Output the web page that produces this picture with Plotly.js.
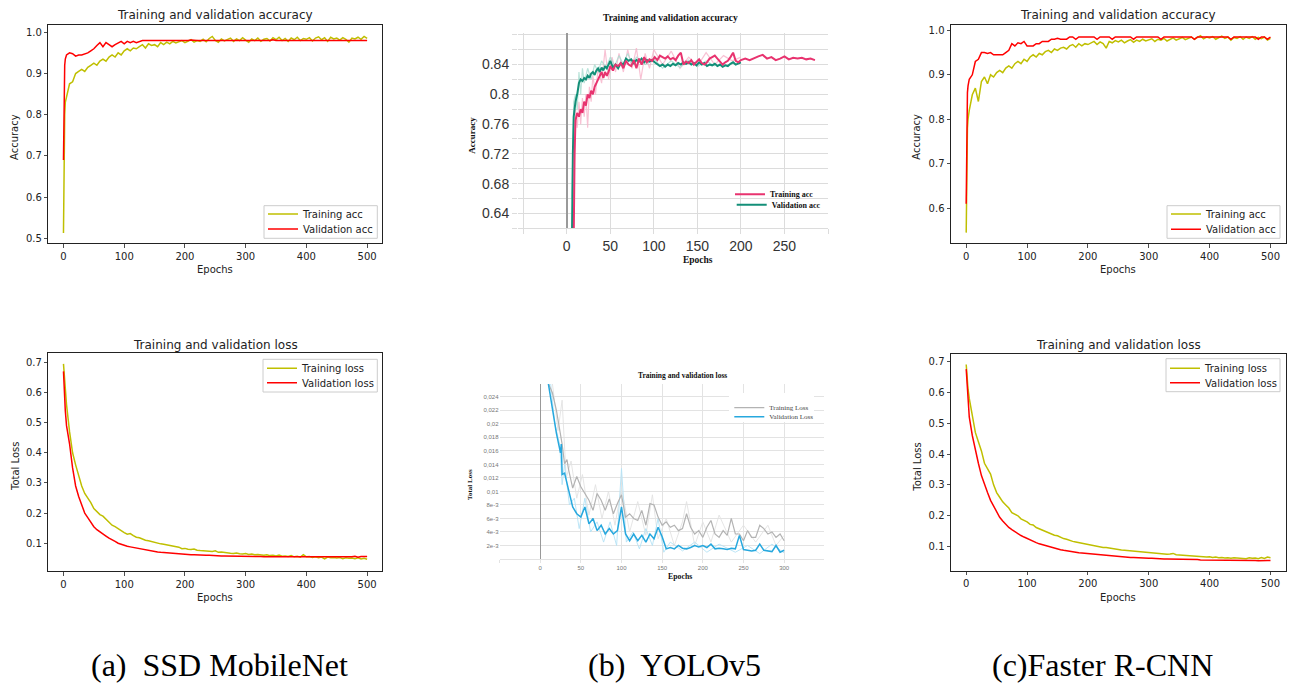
<!DOCTYPE html>
<html><head><meta charset="utf-8">
<script src="https://cdn.plot.ly/plotly-3.0.1.min.js"></script>
<style>html,body{margin:0;padding:0;background:#fff;}#chart{width:1293px;height:686px;}</style>
</head><body><div id="chart"></div>
<script>
// ---------- DATA ----------
const epochs500 = [0,1,2,3,5,10,15,20,25,30,35,40,45,50,55,60,65,70,75,80,85,90,95,100,105,110,115,120,125,130,135,140,145,150,155,160,165,170,175,180,185,190,195,200,205,210,215,220,225,230,235,240,245,250,255,260,265,270,275,280,285,290,295,300,305,310,315,320,325,330,335,340,345,350,355,360,365,370,375,380,385,390,395,400,405,410,415,420,425,430,435,440,445,450,455,460,465,470,475,480,485,490,495,500];

const ssdTrainAcc = [0.513,0.70,0.80,0.83,
0.845,0.875,0.88,0.90,0.905,0.91,0.905,0.915,0.92,0.925,
0.92,0.93,0.935,0.93,0.94,0.945,0.94,0.95,0.945,0.955,
0.96,0.955,0.962,0.96,0.965,0.97,0.962,0.972,0.968,0.97,
0.965,0.975,0.97,0.976,0.972,0.978,0.974,0.977,0.98,0.975,
0.978,0.982,0.976,0.98,0.978,0.983,0.977,0.985,0.99,0.98,
0.976,0.984,0.979,0.982,0.986,0.978,0.984,0.98,0.987,0.981,
0.976,0.984,0.98,0.986,0.978,0.983,0.985,0.979,0.987,0.982,
0.988,0.98,0.985,0.978,0.986,0.982,0.988,0.98,0.985,0.983,
0.987,0.979,0.986,0.989,0.982,0.987,0.978,0.988,0.984,0.986,
0.981,0.987,0.983,0.976,0.986,0.984,0.988,0.983,0.99,0.985];
const ssdValAcc = [0.69,0.88,0.92,0.935,
0.945,0.95,0.948,0.942,0.945,0.945,0.948,0.95,0.955,0.96,
0.968,0.975,0.965,0.975,0.97,0.965,0.97,0.975,0.978,0.972,
0.978,0.975,0.978,0.975,0.978,0.98,0.98,0.98,0.98,0.979,
0.98,0.98,0.98,0.98,0.98,0.98,0.98,0.98,0.98,0.98,
0.98,0.981,0.98,0.98,0.98,0.98,0.98,0.98,0.98,0.98,
0.98,0.98,0.98,0.979,0.98,0.98,0.98,0.98,0.98,0.98,
0.98,0.98,0.98,0.98,0.98,0.98,0.98,0.98,0.982,0.98,
0.98,0.98,0.98,0.98,0.98,0.98,0.98,0.98,0.98,0.98,
0.98,0.98,0.98,0.981,0.98,0.98,0.98,0.98,0.98,0.98,
0.98,0.98,0.98,0.98,0.98,0.98,0.98,0.98,0.98,0.98];
const ssdTrainLoss = [0.695,0.66,0.63,0.60,
0.56,0.47,0.40,0.36,0.32,0.29,0.265,0.25,0.235,0.215,
0.205,0.195,0.19,0.18,0.17,0.16,0.155,0.148,0.14,0.135,
0.13,0.132,0.125,0.12,0.118,0.113,0.11,0.108,0.105,0.103,
0.1,0.098,0.097,0.095,0.092,0.09,0.088,0.087,0.082,0.083,
0.08,0.079,0.081,0.077,0.076,0.075,0.074,0.072,0.073,0.075,
0.07,0.071,0.069,0.068,0.067,0.066,0.068,0.065,0.064,0.066,
0.063,0.064,0.062,0.063,0.061,0.06,0.062,0.059,0.06,0.058,
0.061,0.057,0.058,0.056,0.059,0.055,0.057,0.054,0.062,0.055,
0.056,0.053,0.055,0.052,0.054,0.048,0.054,0.052,0.053,0.051,
0.053,0.049,0.052,0.05,0.051,0.049,0.052,0.048,0.05,0.047];
const ssdValLoss = [0.67,0.62,0.58,0.54,
0.49,0.43,0.35,0.29,0.255,0.225,0.2,0.185,0.17,0.155,
0.145,0.137,0.13,0.124,0.117,0.11,0.106,0.1,0.096,0.093,
0.09,0.088,0.086,0.083,0.081,0.079,0.077,0.075,0.074,0.072,
0.071,0.07,0.069,0.068,0.067,0.066,0.065,0.065,0.064,0.063,
0.063,0.062,0.062,0.061,0.061,0.06,0.06,0.06,0.059,0.059,
0.059,0.058,0.058,0.058,0.058,0.057,0.057,0.057,0.057,0.057,
0.056,0.056,0.056,0.056,0.056,0.055,0.056,0.055,0.055,0.055,
0.055,0.055,0.055,0.054,0.055,0.054,0.055,0.054,0.055,0.054,
0.055,0.054,0.055,0.054,0.056,0.054,0.055,0.054,0.056,0.054,
0.055,0.056,0.054,0.056,0.055,0.057,0.054,0.056,0.055,0.056];

const frcnnTrainAcc = [0.545,0.70,0.78,0.80,
0.82,0.855,0.87,0.84,0.885,0.895,0.88,0.9,0.895,0.905,
0.91,0.905,0.915,0.92,0.915,0.925,0.93,0.925,0.935,0.93,
0.94,0.945,0.94,0.948,0.945,0.952,0.955,0.95,0.958,0.955,
0.96,0.962,0.958,0.965,0.968,0.962,0.97,0.965,0.97,0.968,
0.972,0.975,0.968,0.974,0.97,0.96,0.975,0.972,0.977,0.974,
0.978,0.972,0.976,0.979,0.973,0.978,0.975,0.98,0.976,0.978,
0.981,0.975,0.98,0.978,0.982,0.976,0.98,0.983,0.978,0.981,
0.984,0.979,0.982,0.985,0.98,0.984,0.988,0.981,0.985,0.983,
0.986,0.98,0.984,0.987,0.982,0.985,0.978,0.984,0.982,0.986,
0.98,0.985,0.982,0.986,0.98,0.984,0.981,0.985,0.978,0.982];
const frcnnValAcc = [0.61,0.8,0.86,0.875,
0.89,0.9,0.93,0.935,0.95,0.95,0.948,0.95,0.945,0.945,
0.945,0.945,0.95,0.955,0.97,0.965,0.972,0.97,0.975,0.965,
0.965,0.965,0.97,0.97,0.975,0.975,0.975,0.98,0.98,0.982,
0.98,0.98,0.98,0.985,0.985,0.98,0.985,0.985,0.985,0.985,
0.985,0.985,0.98,0.985,0.985,0.985,0.985,0.98,0.985,0.985,
0.985,0.985,0.985,0.985,0.98,0.985,0.985,0.985,0.985,0.985,
0.985,0.985,0.985,0.98,0.985,0.985,0.985,0.985,0.985,0.985,
0.985,0.985,0.985,0.985,0.98,0.985,0.985,0.985,0.985,0.985,
0.985,0.985,0.985,0.985,0.985,0.985,0.98,0.985,0.985,0.985,
0.985,0.985,0.985,0.985,0.985,0.98,0.985,0.985,0.98,0.985];
const frcnnTrainLoss = [0.69,0.66,0.63,0.61,
0.58,0.52,0.47,0.44,0.41,0.37,0.35,0.335,0.3,0.275,
0.26,0.245,0.235,0.225,0.21,0.205,0.2,0.19,0.185,0.18,
0.172,0.17,0.162,0.158,0.152,0.148,0.145,0.14,0.137,0.135,
0.13,0.126,0.124,0.12,0.117,0.115,0.113,0.11,0.108,0.106,
0.103,0.101,0.1,0.098,0.097,0.097,0.095,0.094,0.092,0.091,
0.089,0.088,0.087,0.086,0.085,0.084,0.083,0.082,0.081,0.08,
0.08,0.079,0.078,0.077,0.076,0.075,0.076,0.078,0.074,0.073,
0.072,0.071,0.07,0.07,0.069,0.068,0.068,0.067,0.066,0.067,
0.065,0.066,0.064,0.065,0.063,0.064,0.062,0.064,0.063,0.062,
0.063,0.061,0.064,0.062,0.063,0.061,0.065,0.062,0.066,0.064];
const frcnnValLoss = [0.675,0.64,0.6,0.57,
0.52,0.46,0.41,0.37,0.33,0.3,0.275,0.25,0.23,0.21,
0.195,0.183,0.172,0.162,0.155,0.148,0.142,0.136,0.131,0.126,
0.121,0.117,0.113,0.109,0.106,0.103,0.1,0.097,0.095,0.093,
0.09,0.088,0.086,0.085,0.083,0.082,0.08,0.079,0.078,0.077,
0.076,0.075,0.074,0.073,0.072,0.071,0.07,0.07,0.069,0.068,
0.067,0.067,0.066,0.065,0.065,0.064,0.064,0.063,0.063,0.062,
0.062,0.061,0.061,0.061,0.06,0.06,0.06,0.06,0.059,0.059,
0.059,0.059,0.058,0.058,0.058,0.058,0.057,0.057,0.057,0.057,
0.057,0.056,0.056,0.056,0.056,0.056,0.055,0.056,0.055,0.055,
0.055,0.055,0.055,0.055,0.055,0.054,0.055,0.054,0.055,0.055];

// YOLOv5 accuracy (smoothed lines)
const yoloTrainAccEpochs = [7,8,9,10,12,14,16,18,20,22,24,26,28,30,32,34,36,38,40,42,44,46,48,50,53,56,59,62,65,68,71,74,77,80,83,86,89,92,95,98,101,104,107,110,113,116,119,122,125,128,131,134,137,140,143,146,149,152,155,158,161,164,167,170,173,176,179,182,185,188,191,194,197,200,205,210,215,220,225,230,235,240,245,250,255,260,265,270,275,280,285];
const yoloTrainAcc = [0.5,0.64,0.72,0.765,
0.775,0.77,0.78,0.775,0.79,0.785,0.80,0.795,0.805,0.80,0.81,0.815,0.82,0.825,0.83,0.822,0.83,0.825,0.83,0.838,
0.832,0.84,0.838,0.842,0.835,0.845,0.84,0.838,0.846,0.835,0.848,0.84,0.85,0.843,0.847,0.845,0.85,0.846,0.852,0.85,0.848,0.851,0.847,0.849,0.846,0.852,0.856,0.84,0.844,0.842,0.846,0.84,0.844,0.847,0.842,0.84,0.843,0.848,0.85,0.852,0.848,0.844,0.84,0.843,0.845,0.85,0.856,0.845,0.843,0.846,
0.848,0.846,0.849,0.851,0.853,0.848,0.85,0.846,0.848,0.851,0.847,0.849,0.848,0.849,0.847,0.848,0.846];
const yoloValAccEpochs = [5,6,7,8,9,10,12,14,16,18,20,22,24,26,28,30,32,34,36,38,40,42,44,46,48,50,53,56,59,62,65,68,71,74,77,80,83,86,89,92,95,98,101,104,107,110,113,116,119,122,125,128,131,134,137,140,143,146,149,152,155,158,161,164,167,170,173,176,179,182,185,188,191,194,197,200];
const yoloValAcc = [0.5,0.64,0.72,0.77,0.785,0.79,
0.80,0.815,0.82,0.818,0.822,0.82,0.825,0.822,0.828,0.83,0.826,0.832,0.835,0.83,0.836,0.832,0.838,0.835,0.84,0.845,
0.836,0.84,0.835,0.842,0.84,0.848,0.845,0.847,0.842,0.846,0.844,0.848,0.843,0.846,0.844,0.846,0.843,0.84,0.838,0.84,0.837,0.84,0.838,0.841,0.839,0.842,0.84,0.843,0.841,0.843,0.84,0.842,0.839,0.843,0.84,0.842,0.838,0.84,0.839,0.841,0.838,0.84,0.837,0.839,0.838,0.841,0.843,0.84,0.842,0.843];
// YOLOv5 accuracy (raw, faint)
const yoloTrainAccRawEpochs = [8,10,12,14,16,18,20,22,24,26,28,30,33,36,40,44,48,52,56,60,65,70,75,80,85,90,95,100,110,120,130,140,150,160,170,180,190,200];
const yoloTrainAccRaw = [0.66,0.78,0.755,0.79,0.76,0.795,0.77,0.80,0.755,0.81,0.79,0.825,0.80,0.835,0.815,0.86,0.82,0.85,0.83,0.855,0.83,0.86,0.835,0.862,0.82,0.855,0.835,0.86,0.84,0.858,0.835,0.85,0.838,0.856,0.84,0.852,0.845,0.85];
const yoloValAccRawEpochs = [6,8,10,12,14,16,18,20,24,28,32,36,40,45,50,55,60,65,70,75,80,90,100,110,120,130,140,150,160,170];
const yoloValAccRaw = [0.66,0.79,0.80,0.78,0.83,0.80,0.835,0.815,0.835,0.82,0.84,0.83,0.845,0.835,0.85,0.838,0.852,0.84,0.855,0.84,0.85,0.84,0.848,0.835,0.845,0.836,0.846,0.837,0.845,0.838];

// YOLOv5 loss (smoothed lines)
const yoloTrainLossEpochs = [10,15,20,25,27,30,33,35,40,45,50,55,60,65,70,75,80,85,90,95,100,105,110,115,120,125,130,135,140,145,150,155,160,165,170,175,180,185,190,195,200,205,210,215,220,225,230,235,240,245,250,255,260,265,270,275,280,285,290,295,300];
const yoloTrainLoss = [0.026,0.0246,0.022,0.0186,0.017,0.0141,0.0147,0.0132,
0.0105,0.0122,0.0107,0.0097,0.0087,0.0072,0.0097,0.0087,0.0072,0.0089,0.0067,0.0082,0.0095,0.0062,0.0067,0.006,0.0057,0.0072,0.005,0.0082,0.008,0.0062,0.005,0.0055,0.0047,0.005,0.0042,0.0045,0.0067,0.0047,0.0037,0.0042,0.0032,0.0047,0.0057,0.0037,0.0032,0.0042,0.0035,0.006,0.0037,0.0037,0.0027,0.0042,0.0032,0.0032,0.005,0.0045,0.0037,0.004,0.0032,0.0037,0.0027];
const yoloValLossEpochs = [10,15,20,25,26,27,30,35,40,45,50,55,60,65,70,75,80,85,90,95,100,105,110,115,120,125,130,135,140,145,150,155,160,165,170,175,180,185,190,195,200,205,210,215,220,225,230,235,240,245,250,255,260,265,270,275,280,285,290,295,300];
const yoloValLoss = [0.026,0.0221,0.0186,0.0157,0.017,0.0125,0.0127,0.0102,
0.0077,0.0067,0.0062,0.0077,0.0052,0.006,0.0042,0.005,0.0037,0.0045,0.0037,0.0042,0.0077,0.0037,0.0027,0.0037,0.0027,0.0035,0.0025,0.0037,0.003,0.0047,0.0033,0.0015,0.0017,0.0015,0.002,0.0016,0.0015,0.0017,0.002,0.0018,0.002,0.0017,0.0022,0.0015,0.0016,0.0015,0.0014,0.0016,0.0015,0.0035,0.0014,0.0013,0.0012,0.0013,0.0022,0.0013,0.0012,0.0011,0.002,0.001,0.0013];
// YOLOv5 loss (raw, faint)
const yoloValLossRawEpochs = [12,18,24,27,30,36,42,48,55,62,70,78,86,94,100,106,114,122,130,138,145,152,160,175,190,205,220,240,255,270,285,300];
const yoloValLossRaw = [0.027,0.02,0.017,0.011,0.014,0.008,0.009,0.0045,0.009,0.004,0.0055,0.0025,0.0055,0.002,0.0134,0.0025,0.004,0.0015,0.0045,0.002,0.006,0.001,0.0025,0.0012,0.0025,0.001,0.0022,0.001,0.002,0.0008,0.0022,0.0009];
const yoloTrainLossRawEpochs = [15,22,27,32,38,45,52,60,68,76,84,92,100,110,120,130,138,145,155,165,175,180,190,200,210,220,235,250,265,280,290,300];
const yoloTrainLossRaw = [0.026,0.019,0.0235,0.012,0.0145,0.009,0.0125,0.0065,0.011,0.006,0.01,0.005,0.0105,0.004,0.0085,0.0035,0.0095,0.003,0.006,0.002,0.0055,0.0085,0.002,0.0055,0.0025,0.0065,0.0025,0.005,0.0025,0.005,0.002,0.0035];

// tick labels
const mplEpochTicks = [0,100,200,300,400,500];
const ssdAccTicks = [0.5,0.6,0.7,0.8,0.9,1.0];
const frcnnAccTicks = [0.6,0.7,0.8,0.9,1.0];
const lossTicks = [0.1,0.2,0.3,0.4,0.5,0.6,0.7];
const yoloAccXTicks = [-50,0,50,100,150,200,250,300];
const yoloAccXLabels = ['','0','50','100','150','200','250',''];
const yoloAccYTicks = [0.62,0.64,0.66,0.68,0.70,0.72,0.74,0.76,0.78,0.80,0.82,0.84,0.86,0.88];
const yoloAccYLabels = ['','0.64','','0.68','','0.72','','0.76','','0.8','','0.84','',''];
const yoloLossXTicks = [-50,0,50,100,150,200,250,300];
const yoloLossXLabels = ['','0','50','100','150','200','250','300'];
const yoloLossYTicks = [0,0.002,0.004,0.006,0.008,0.01,0.012,0.014,0.016,0.018,0.02,0.022,0.024];
const yoloLossYLabels = ['','2e-3','4e-3','6e-3','8e-3','0,01','0,012','0,014','0,016','0,018','0,02','0,022','0,024'];

// ---------- LAYOUT HELPERS ----------
const W = 1293, H = 686;
const xd = (a,b) => [a/W, b/W];
const yd = (top,bottom) => [1-bottom/H, 1-top/H];
const MPL_FONT = 'DejaVu Sans';
const SERIF = 'Liberation Serif';
const YEL = '#bfbf00', RED = '#ff0000';

function mplX(anchor, dom) {
  return {domain: dom, anchor: anchor, range: [-25,525], tickvals: mplEpochTicks, ticks: 'outside', ticklen: 3.5, tickwidth: 0.8,
    tickcolor: '#222', showline: true, mirror: true, linecolor: '#222', linewidth: 1, showgrid: false, zeroline: false,
    tickfont: {family: MPL_FONT, size: 10, color: '#222'}};
}
function mplY(anchor, dom, range, tv) {
  return {domain: dom, anchor: anchor, range: range, tickvals: tv, tickformat: '.1f', ticks: 'outside', ticklen: 3.5, tickwidth: 0.8,
    tickcolor: '#222', showline: true, mirror: true, linecolor: '#222', linewidth: 1, showgrid: false, zeroline: false,
    tickfont: {family: MPL_FONT, size: 10, color: '#222'}};
}
// one legend entry per legend, placed by its left edge (px) and the entry's vertical centre (px)
function itemLegend(leftPx, midPx, font, bg) {
  return {x: leftPx/W, y: 1-midPx/H, xanchor: 'left', yanchor: 'middle', xref: 'paper', yref: 'paper',
    bgcolor: bg || 'rgba(0,0,0,0)', borderwidth: 0, font: font, itemwidth: 30, tracegroupgap: 0};
}
function legendBox(l, t, r, b) {
  return {type: 'rect', xref: 'paper', yref: 'paper', x0: l/W, x1: r/W, y0: 1-b/H, y1: 1-t/H, layer: 'above',
    line: {color: '#cccccc', width: 1}, fillcolor: 'rgba(255,255,255,0.85)'};
}
function ann(text, px, py, font, extra) {
  return Object.assign({text: text, x: px/W, y: 1-py/H, xref: 'paper', yref: 'paper', showarrow: false,
    xanchor: 'center', yanchor: 'middle', font: font}, extra || {});
}
function line(x, y, xa, ya, name, color, width, legend, show, opacity) {
  return {type: 'scatter', mode: 'lines', x: x, y: y, xaxis: xa, yaxis: ya, name: name, legend: legend,
    showlegend: show, opacity: opacity == null ? 1 : opacity, line: {color: color, width: width}, hoverinfo: 'skip'};
}

const PINK = '#e8336f', TEAL = '#138f78', GRAY = '#b3b3b3', BLUE = '#27a8de';

const data = [
  // (a) SSD MobileNet
  line(epochs500, ssdTrainAcc, 'x', 'y', 'Training acc', YEL, 1.5, 'legend', true),
  line(epochs500, ssdValAcc, 'x', 'y', 'Validation acc', RED, 1.5, 'legend7', true),
  line(epochs500, ssdTrainLoss, 'x2', 'y2', 'Training loss', YEL, 1.5, 'legend2', true),
  line(epochs500, ssdValLoss, 'x2', 'y2', 'Validation loss', RED, 1.5, 'legend8', true),
  // (b) YOLOv5
  line(yoloTrainAccRawEpochs, yoloTrainAccRaw, 'x3', 'y3', 'raw', '#f6b3c9', 1.2, 'legend3', false, 0.8),
  line(yoloValAccRawEpochs, yoloValAccRaw, 'x3', 'y3', 'raw', '#a9dccf', 1.2, 'legend3', false, 0.8),
  line(yoloValAccEpochs, yoloValAcc, 'x3', 'y3', 'Validation acc', TEAL, 2, 'legend9', true),
  line(yoloTrainAccEpochs, yoloTrainAcc, 'x3', 'y3', 'Training acc', PINK, 2, 'legend3', true),
  line(yoloTrainLossRawEpochs, yoloTrainLossRaw, 'x4', 'y4', 'raw', '#e2e2e2', 1, 'legend4', false, 0.9),
  line(yoloValLossRawEpochs, yoloValLossRaw, 'x4', 'y4', 'raw', '#b5e2f5', 1, 'legend4', false, 0.9),
  line(yoloTrainLossEpochs, yoloTrainLoss, 'x4', 'y4', 'Training Loss', GRAY, 1.2, 'legend4', true),
  line(yoloValLossEpochs, yoloValLoss, 'x4', 'y4', 'Validation Loss', BLUE, 1.5, 'legend10', true),
  // (c) Faster R-CNN
  line(epochs500, frcnnTrainAcc, 'x5', 'y5', 'Training acc', YEL, 1.5, 'legend5', true),
  line(epochs500, frcnnValAcc, 'x5', 'y5', 'Validation acc', RED, 1.5, 'legend11', true),
  line(epochs500, frcnnTrainLoss, 'x6', 'y6', 'Training loss', YEL, 1.5, 'legend6', true),
  line(epochs500, frcnnValLoss, 'x6', 'y6', 'Validation loss', RED, 1.5, 'legend12', true)
];

const GRID = '#dcdcdc';
const MPL_LEG = {family: MPL_FONT, size: 10, color: '#222'};
const B_LEG_TOP = {family: SERIF, size: 8, color: '#111', weight: 'bold'};
const B_LEG_BOT = {family: SERIF, size: 7, color: '#444'};
const layout = {
  width: W, height: H, margin: {l:0, r:0, t:0, b:0}, paper_bgcolor: '#fff', plot_bgcolor: '#fff', showlegend: true,
  // (a)
  xaxis: mplX('y', xd(48.3, 382.3)),
  yaxis: mplY('x', yd(25, 243.3), [0.488, 1.0177], ssdAccTicks),
  xaxis2: mplX('y2', xd(48.3, 382.3)),
  yaxis2: mplY('x2', yd(353.3, 571), [0.008, 0.73], lossTicks),
  // (b) top
  xaxis3: {domain: xd(518, 828), anchor: 'y3', range: [-56, 300], tickvals: yoloAccXTicks, ticktext: yoloAccXLabels,
    showgrid: true, gridcolor: GRID, gridwidth: 1, zeroline: true, zerolinecolor: '#9a9a9a', zerolinewidth: 1.5,
    showline: true, linecolor: GRID, ticks: 'outside', ticklen: 5, tickcolor: GRID,
    tickfont: {family: 'Liberation Sans', size: 14, color: '#333'}},
  yaxis3: {domain: yd(33.3, 228.3), anchor: 'x3', range: [0.62, 0.882], tickvals: yoloAccYTicks, ticktext: yoloAccYLabels,
    showgrid: true, gridcolor: GRID, gridwidth: 1, zeroline: false, showline: false, ticks: 'outside', ticklen: 5, tickcolor: GRID,
    tickfont: {family: 'Liberation Sans', size: 14, color: '#333'}},
  // (b) bottom
  xaxis4: {domain: xd(499.5, 824), anchor: 'y4', range: [-50, 349], tickvals: yoloLossXTicks, ticktext: yoloLossXLabels,
    showgrid: true, gridcolor: '#e3e3e3', gridwidth: 1, zeroline: true, zerolinecolor: '#999', zerolinewidth: 1,
    showline: true, linecolor: '#e3e3e3', ticks: 'outside', ticklen: 3, tickcolor: '#e3e3e3',
    tickfont: {family: 'Liberation Sans', size: 6, color: '#777'}},
  yaxis4: {domain: yd(384, 559), anchor: 'x4', range: [0, 0.0259], tickvals: yoloLossYTicks, ticktext: yoloLossYLabels,
    showgrid: true, gridcolor: '#e3e3e3', gridwidth: 1, zeroline: false, showline: false, ticks: '',
    tickfont: {family: 'Liberation Sans', size: 6, color: '#777'}},
  // (c)
  xaxis5: mplX('y5', xd(951, 1285.7)),
  yaxis5: mplY('x5', yd(25, 243.3), [0.521, 1.012], frcnnAccTicks),
  xaxis6: mplX('y6', xd(951, 1285.7)),
  yaxis6: mplY('x6', yd(354, 570.7), [0.022, 0.724], lossTicks),
  // legends: one entry each, so that entries sit where the reference has them
  legend:   itemLegend(263, 214, MPL_LEG),
  legend7:  itemLegend(263, 229, MPL_LEG),
  legend2:  itemLegend(262, 368.3, MPL_LEG),
  legend8:  itemLegend(262, 382.7, MPL_LEG),
  legend3:  itemLegend(730, 194.3, B_LEG_TOP),
  legend9:  itemLegend(731.7, 204.8, B_LEG_TOP),
  legend4:  itemLegend(729.3, 407.7, B_LEG_BOT, '#fff'),
  legend10: itemLegend(729.3, 416.7, B_LEG_BOT, 'rgba(0,0,0,0)'),
  legend5:  itemLegend(1166, 214, MPL_LEG),
  legend11: itemLegend(1166, 229.3, MPL_LEG),
  legend6:  itemLegend(1165, 368.3, MPL_LEG),
  legend12: itemLegend(1165, 382.7, MPL_LEG),
  shapes: [
    legendBox(264, 205.7, 377.3, 238.3),
    legendBox(263, 359.3, 377.3, 392),
    legendBox(1167, 205.7, 1280, 238.3),
    legendBox(1166, 358.7, 1280, 391.7)
  ],
  annotations: [
    // (a)
    ann('Training and validation accuracy', 215.3, 15.5, {family: MPL_FONT, size: 12, color: '#222'}),
    ann('Epochs', 215.3, 269, {family: MPL_FONT, size: 10, color: '#222'}),
    ann('Accuracy', 15, 137, {family: MPL_FONT, size: 10, color: '#222'}, {textangle: -90}),
    ann('Training and validation loss', 215.3, 345, {family: MPL_FONT, size: 12, color: '#222'}),
    ann('Epochs', 215.3, 597, {family: MPL_FONT, size: 10, color: '#222'}),
    ann('Total Loss', 15, 467, {family: MPL_FONT, size: 10, color: '#222'}, {textangle: -90}),
    // (b)
    ann('<b>Training and validation accuracy</b>', 670, 18, {family: SERIF, size: 9.5, color: '#111'}),
    ann('<b>Epochs</b>', 698, 260, {family: SERIF, size: 9.5, color: '#111'}),
    ann('<b>Accuracy</b>', 471.7, 135, {family: SERIF, size: 9, color: '#111'}, {textangle: -90}),
    ann('<b>Training and validation loss</b>', 682, 375, {family: SERIF, size: 7.5, color: '#111'}),
    ann('<b>Epochs</b>', 680, 576, {family: SERIF, size: 7.8, color: '#111'}),
    ann('<b>Total Loss</b>', 470, 485, {family: SERIF, size: 7, color: '#111'}, {textangle: -90}),
    // (c)
    ann('Training and validation accuracy', 1118.3, 15.5, {family: MPL_FONT, size: 12, color: '#222'}),
    ann('Epochs', 1118.3, 269, {family: MPL_FONT, size: 10, color: '#222'}),
    ann('Accuracy', 916.7, 137, {family: MPL_FONT, size: 10, color: '#222'}, {textangle: -90}),
    ann('Training and validation loss', 1118.3, 345, {family: MPL_FONT, size: 12, color: '#222'}),
    ann('Epochs', 1118.3, 597, {family: MPL_FONT, size: 10, color: '#222'}),
    ann('Total Loss', 916.7, 467, {family: MPL_FONT, size: 10, color: '#222'}, {textangle: -90}),
    // captions
    ann('(a)  SSD MobileNet', 219.5, 665, {family: SERIF, size: 32, color: '#000'}),
    ann('(b)  YOLOv5', 674, 665, {family: SERIF, size: 32, color: '#000'}),
    ann('(c)Faster R-CNN', 1102, 665, {family: SERIF, size: 32, color: '#000'})
  ]
};

Plotly.newPlot('chart', data, layout, {staticPlot: true, displayModeBar: false});
</script>
</body></html>
